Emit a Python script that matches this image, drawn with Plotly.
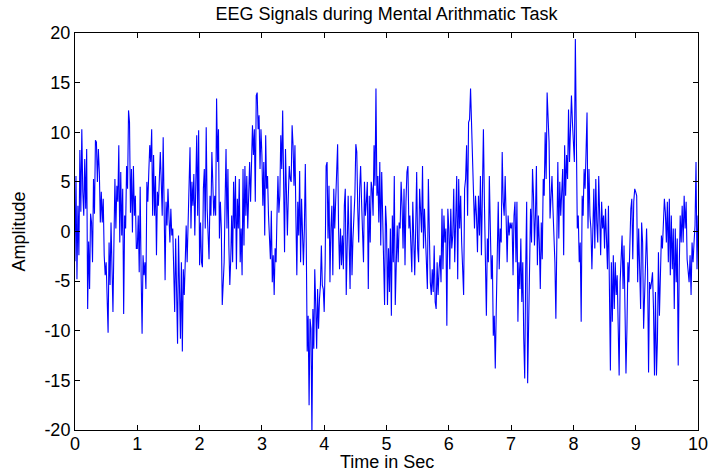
import numpy as np
import plotly.graph_objects as go

# EEG amplitude samples, one list per second of signal
seg0 = [-3.0, 5.6, -4.8, 2.6, -2.4, 8.2, 2.0, 10.3, 4.0, 1.6, 7.3, 2.3, 8.3, -7.8, -1.0, -5.8,
        1.8, 0.9, -3.1, 5.3, 1.8, 9.2, 9.0, 5.0, 8.3, 6.0, 0.9, 4.0, 0.9, 3.3, -2.4, -4.4,
        -3.1, -6.4, -10.2, -1.1, -5.4, 0.9, -5.8, -8.1, -1.1, 5.3, 0.3, 4.6, 3.0, 8.7, -1.1,
        6.0, -0.4, 4.3, -8.3, 1.6, 0.3, 6.6, 4.3, 12.2, 11.0, 1.9, 6.3, -0.1, 6.6, 1.6, 3.6, -1.7]
seg1 = [-1.7, 1.6, -4.1, 4.5, -4.4, -10.3, -2.4, -4.4, -3.1, -5.8, 5.0, 3.0, 6.0, 8.7, 7.0,
        10.3, 1.6, 7.7, 1.6, 5.6, -2.4, 4.0, 2.6, 5.6, 8.0, 5.0, 1.6, 9.5, 4.3, -4.9, 3.0, 0.6,
        4.3, 1.6, -1.1, 2.3, -0.4, 0.3, -3.8, -8.1, -0.7, -5.1, -11.3, -0.4, -6.4, -10.8, -3.1,
        -12.1, -3.8, -6.4, -3.1, 0.6, -3.1, 1.6, 4.3, 8.5, 0.3, 5.0, 2.6, 5.8, -0.4, 5.0, 9.7,
        1.6, 10.2]
seg2 = [-3.4, 0.9, -3.1, -3.6, 4.3, 6.3, 0.3, 10.5, 2.3, 0.3, -2.8, 3.6, 1.6, 8.0, 4.3, 1.6,
        3.6, 1.6, 13.4, 7.0, 10.3, -0.7, 3.0, 0.3, -7.4, -5.1, -3.1, 3.0, 8.3, 0.3, 6.3, -1.4,
        -5.4, -2.8, 1.6, -3.1, 5.0, 0.3, 5.6, -3.8, 3.3, 0.3, 5.3, -3.1, 0.3, -4.4, 6.3, -1.4,
        6.6, 1.6, 5.6, 0.3, 4.3, 7.0, 3.0, 7.3, 10.7, 7.7, 10.3, 3.0, 13.7, 14.0, 10.3, 11.7,
        6.3, 10.3]
seg3 = [7.7, 2.6, 7.0, -0.4, 9.7, 4.3, 5.6, 1.6, -0.4, -2.8, 2.1, -5.1, -2.4, -6.4, -1.7,
        -3.1, 1.6, 5.6, 1.9, 3.6, 9.7, 6.3, 12.2, 7.0, -2.1, 8.3, 4.3, -0.4, 3.6, 6.6, 5.3,
        5.0, 10.7, 8.7, 4.6, 8.7, 1.6, -4.4, 3.0, -0.4, 6.1, -3.1, 3.3, -0.4, -3.4, 0.3, 6.8,
        -1.1, -12.1, -8.5, -17.5, -8.8, -9.8, -20.5, -7.8, -11.8, -3.8, -7.4, -11.8, -5.8,
        -9.8, -6.8, -5.4, -1.4, -5.4, -5.8]
seg4 = [-8.1, -3.1, 6.6, 7.0, -0.7, 4.6, -5.1, 0.3, 2.6, -4.4, 4.3, 0.3, 3.0, 6.6, 8.8, 0.3,
        -3.8, 0.3, -3.4, -0.4, -3.8, 2.6, 4.3, -6.4, 0.9, 3.6, -1.1, -5.8, 3.6, -4.4, -0.7,
        1.6, 3.6, 8.8, 8.0, 2.3, -1.1, 4.3, 6.6, 3.0, 0.3, -3.1, 5.0, 1.6, 3.0, 5.0, -5.8, 3.6,
        -1.1, 5.0, 4.3, 1.6, 8.7, 4.6, 14.4, 3.6, 5.6, 0.9, 7.0, -1.4, 6.0, 1.6, -0.4, -7.4, 2.6]
seg5 = [0.6, -7.4, -1.7, -6.1, 0.3, -8.5, 1.6, -3.1, 5.6, -7.4, -1.7, 0.6, -3.1, 0.9, 0.3,
        5.0, 2.6, -1.7, 4.3, -3.4, 3.0, 6.0, 6.6, 0.3, 1.6, -1.1, -4.1, 3.0, -0.4, -4.4, 0.3,
        6.0, -1.7, -3.1, 4.3, 1.6, -0.1, 6.6, -1.7, 2.3, -0.4, -3.1, -5.8, 5.3, -1.1, -5.1,
        -6.4, -3.8, -6.1, -1.4, -7.1, -7.8, -3.1, -6.4, -3.8, -2.4, -5.1, 2.3, -3.8, 1.6, -1.1,
        0.3, -9.5, 2.3]
seg6 = [0.3, -3.8, 2.3, -1.7, -0.4, 4.3, -3.1, 1.6, 5.6, -4.8, 5.3, 0.3, 3.6, -1.1, -5.1,
        -6.4, 4.3, 5.3, 8.7, 1.6, 11.0, 11.3, 14.4, 10.3, 9.0, 4.3, 0.3, 3.6, 1.6, -2.1, 3.6,
        -0.4, 5.6, -2.4, 2.3, 10.3, 3.0, -1.7, -8.5, -0.7, -3.1, 5.6, -1.4, -4.8, -2.4, -10.5,
        -8.5, -13.8, -7.8, -3.1, 3.0, -3.8, 0.3, -1.1, 8.0, 3.0, 1.6, 5.6, 0.3, -3.1, 1.6,
        -0.4, 0.9]
seg7 = [0.3, 0.9, -4.4, 1.6, 3.0, -3.1, 3.0, -9.1, -3.1, -5.8, -0.7, -7.1, -3.1, -10.8,
        -14.8, -3.8, 3.0, -15.3, -9.1, -5.3, 2.3, -1.1, 6.3, 3.6, -1.4, 1.6, 6.6, -3.4, 1.6,
        -1.1, -5.8, 0.9, -2.8, 5.3, 3.6, 10.0, 5.3, 14.0, 11.7, 9.0, 1.3, 3.0, 5.6, 2.3, 0.3,
        -3.1, -8.8, -2.4, 7.0, -0.7, 5.0, 1.6, 3.6, 6.3, -2.4, 8.7, 3.6, 7.7, 5.3, 12.3, 7.0,
        9.7, 13.7, 11.0]
seg8 = [8.7, 7.0, 19.4, 8.7, 0.3, 1.6, -3.1, -1.1, -9.1, 3.6, 1.6, 6.3, 4.3, 8.0, 12.0, 0.3,
        6.3, 1.6, 0.3, -3.8, 1.6, 4.3, -1.7, 5.3, 0.9, -1.1, 5.6, 1.6, -2.4, 3.0, 0.3, 1.6,
        -1.7, 2.3, -0.7, -3.8, 2.6, -6.1, -14.0, -3.1, -9.1, -2.4, -7.8, -3.1, -6.4, -4.4,
        -9.1, -14.5, -5.1, -3.1, -0.4, -5.8, -1.4, -7.8, -14.3, -9.8, -3.1, -5.1, 0.3, 2.3,
        3.3, -2.8, 3.0, 4.3]
seg9 = [4.0, 3.6, -5.1, 0.3, -3.8, -7.8, 0.9, -1.1, -9.8, -6.4, -4.4, 0.3, -3.8, -14.2, -5.1,
        -5.8, -5.1, -4.1, -7.8, -14.5, -6.1, -14.5, -10.8, -2.1, -8.5, -3.8, -0.4, -1.7, 1.6,
        3.3, 1.9, -1.1, 3.0, -3.1, 3.3, -4.4, 1.6, -3.8, 0.3, -7.8, 0.3, -5.1, -0.7, -13.5,
        -3.8, 1.6, -1.1, 2.6, -1.1, 3.6, 0.3, 3.0, -2.8, -4.4, -5.1, -2.4, -6.4, -1.1, -3.1,
        -1.1, 0.6, 7.0, -3.8, 1.6]

segments = [seg0, seg1, seg2, seg3, seg4, seg5, seg6, seg7, seg8, seg9]

x_ticks = list(range(0, 11))
y_ticks = [-20, -15, -10, -5, 0, 5, 10, 15, 20]

t, amp = [], []
for k, seg in enumerate(segments):
    n = len(seg)
    if k < len(segments) - 1:
        tt = k + np.arange(n) / n
    else:
        tt = np.linspace(k, k + 1, n)
    t.extend(tt.tolist())
    amp.extend(seg)

font = dict(family="Liberation Sans, Arial, sans-serif", size=18, color="black")

fig = go.Figure()
fig.add_trace(go.Scatter(x=t, y=amp, mode="lines",
                         line=dict(color="rgb(0,0,255)", width=1.1)))

axis_common = dict(showline=True, linecolor="black", linewidth=1, mirror="ticks",
                   ticks="inside", ticklen=5, tickcolor="black", showgrid=False,
                   zeroline=False, tickfont=font, automargin=False,
                   ticklabeloverflow="allow")

fig.update_layout(
    width=708, height=471,
    margin=dict(l=75, r=10, t=33, b=41),
    paper_bgcolor="white", plot_bgcolor="white",
    showlegend=False,
    font=font,
    title=dict(text="EEG Signals during Mental Arithmatic Task", x=0.5, xanchor="center",
               xref="paper", y=1 - 14 / 471, yref="container", yanchor="middle",
               font=font),
    xaxis=dict(range=[0, 10], tickvals=x_ticks, ticktext=[str(v) for v in x_ticks],
               ticklabelstandoff=-3, **axis_common),
    yaxis=dict(range=[-20, 20], tickvals=y_ticks, ticktext=[str(v) for v in y_ticks],
               **axis_common),
    annotations=[
        dict(text="Time in Sec", x=0.5, y=-32 / 397, xref="paper", yref="paper",
             xanchor="center", yanchor="middle", showarrow=False, font=font),
        dict(text="Amplitude", x=-57 / 623, y=0.5, xref="paper", yref="paper",
             xanchor="center", yanchor="middle", textangle=-90, showarrow=False, font=font),
    ],
)

fig.write_html("out.html")
